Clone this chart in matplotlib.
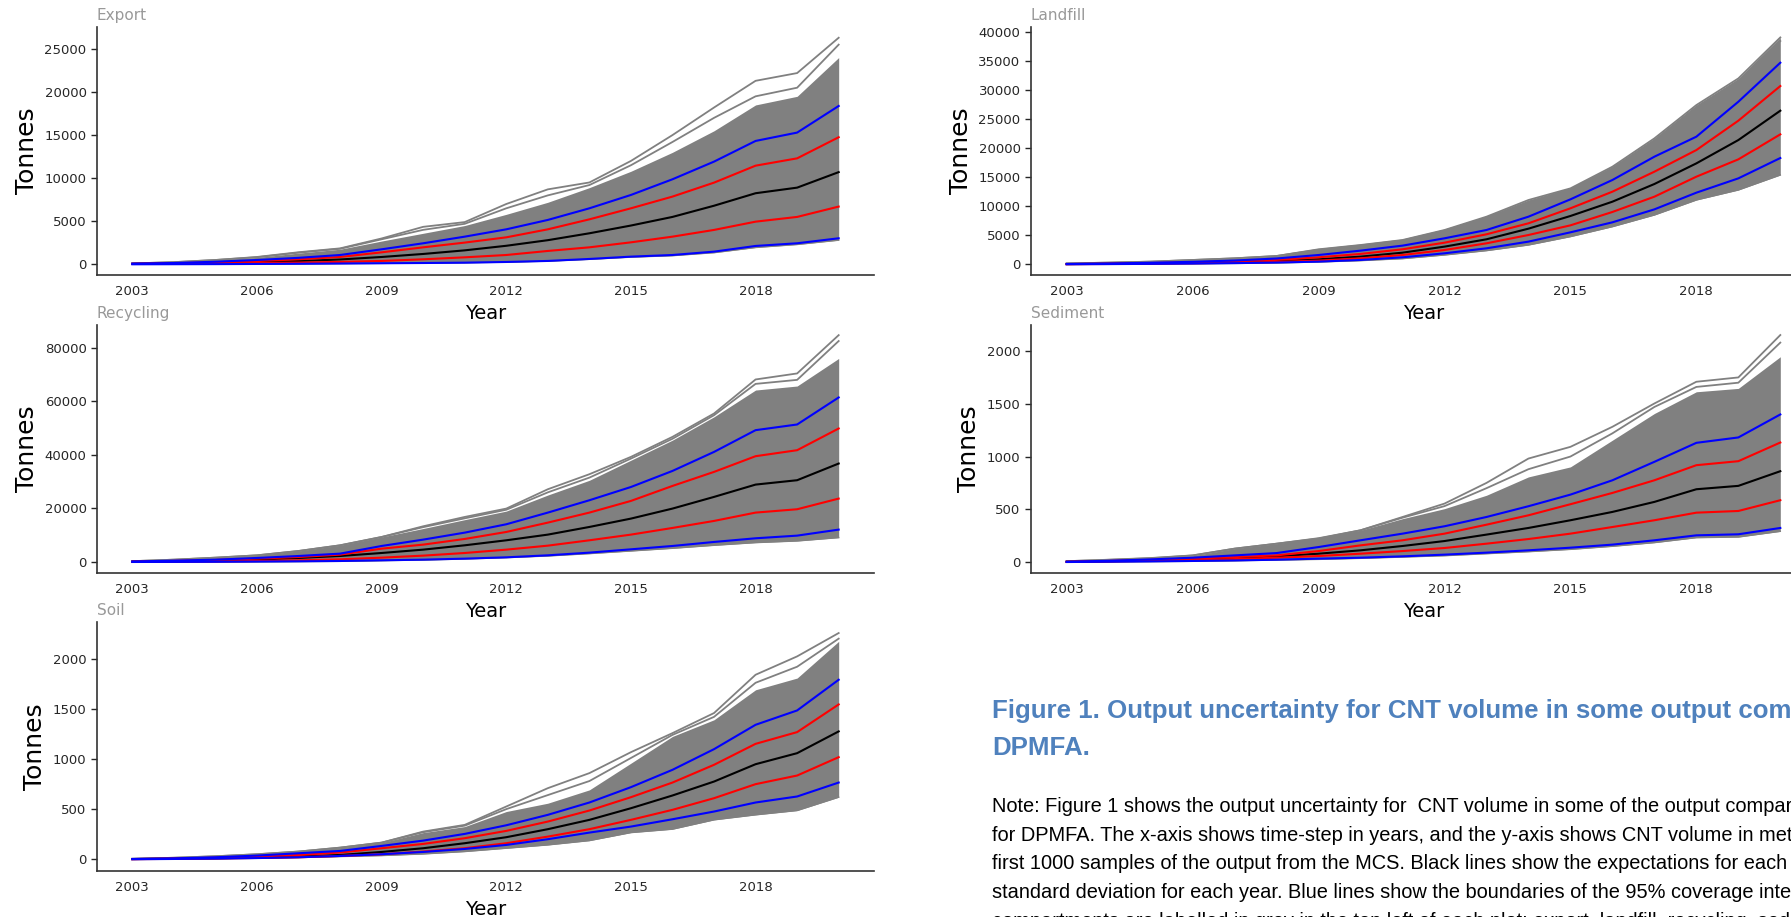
import numpy as np
import matplotlib
matplotlib.use("Agg")
import matplotlib.pyplot as plt
from matplotlib.ticker import MultipleLocator

years = np.arange(2003, 2021)

# Export
export_mean = [50, 100, 170, 260, 380, 560, 850, 1200, 1620, 2150, 2800, 3600, 4500, 5500, 6800, 8250, 8900, 10700]
export_sd_hi = [60, 120, 230, 380, 580, 850, 1390, 1970, 2520, 3130, 4060, 5220, 6500, 7860, 9480, 11450, 12300, 14750]
export_sd_lo = [40, 70, 110, 150, 200, 280, 390, 580, 810, 1080, 1550, 1970, 2550, 3210, 3990, 4950, 5500, 6700]
export_ci_hi = [80, 150, 300, 500, 750, 1080, 1740, 2440, 3210, 4060, 5150, 6500, 8050, 9870, 11920, 14320, 15290, 18380]
export_ci_lo = [0, 10, 20, 40, 60, 90, 120, 150, 190, 270, 390, 620, 890, 1080, 1470, 2130, 2440, 3020]
export_top = [100, 250, 500, 800, 1300, 1750, 2700, 3600, 4500, 5800, 7200, 8900, 10800, 13000, 15500, 18500, 19500, 24000]
export_bottom = [0, 8, 18, 35, 55, 80, 110, 140, 180, 250, 370, 580, 830, 1000, 1350, 1950, 2300, 2800]
export_high = [100, 250, 500, 850, 1400, 1850, 3000, 4350, 4900, 7000, 8700, 9500, 12000, 15000, 18200, 21300, 22200, 26300]
export_high2 = [100, 250, 500, 820, 1350, 1800, 2900, 4000, 4700, 6500, 8000, 9200, 11500, 14200, 17000, 19500, 20500, 25500]

# Landfill
landfill_mean = [30, 80, 160, 260, 390, 560, 860, 1320, 2000, 3040, 4300, 6130, 8310, 10770, 13810, 17360, 21370, 26420]
landfill_sd_hi = [45, 110, 210, 340, 510, 760, 1200, 1780, 2580, 3720, 5160, 7050, 9630, 12490, 15930, 19650, 24700, 30660]
landfill_sd_lo = [20, 55, 110, 180, 270, 410, 630, 1030, 1600, 2460, 3610, 5040, 6700, 9000, 11630, 15070, 18050, 22350]
landfill_ci_hi = [60, 140, 270, 430, 650, 1000, 1600, 2350, 3210, 4470, 5900, 8190, 11170, 14500, 18510, 21950, 27960, 34670]
landfill_ci_lo = [10, 35, 75, 130, 200, 300, 460, 745, 1200, 1890, 2750, 3900, 5500, 7220, 9450, 12320, 14780, 18280]
landfill_top = [150, 290, 460, 745, 1030, 1430, 2580, 3320, 4180, 5900, 8190, 11060, 13060, 16790, 21660, 27390, 31970, 39020]
landfill_bottom = [0, 20, 50, 90, 150, 230, 400, 630, 970, 1600, 2350, 3320, 4760, 6470, 8480, 11060, 12780, 15360]
landfill_high = [150, 290, 460, 745, 1030, 1430, 2580, 3320, 4180, 5900, 8190, 11060, 13060, 16790, 21660, 27390, 31970, 39020]
landfill_high2 = [150, 290, 460, 745, 1030, 1430, 2500, 3250, 4100, 5800, 8000, 10700, 12900, 16500, 21300, 27000, 31500, 38400]

# Recycling
recycling_mean = [100, 300, 500, 870, 1500, 2240, 3360, 4610, 6230, 8100, 10220, 13080, 16200, 19940, 24300, 28900, 30530, 36760]
recycling_sd_hi = [150, 400, 750, 1250, 1870, 2740, 4980, 6480, 8600, 11210, 14700, 18440, 22800, 28400, 33640, 39500, 41740, 49840]
recycling_sd_lo = [50, 100, 200, 370, 620, 1000, 1620, 2370, 3360, 4610, 6100, 8100, 10220, 12710, 15330, 18440, 19690, 23670]
recycling_ci_hi = [200, 500, 870, 1500, 2240, 3120, 5980, 8350, 10960, 14080, 18440, 23050, 28000, 34000, 41100, 49220, 51340, 61430]
recycling_ci_lo = [0, 30, 80, 150, 250, 370, 620, 870, 1250, 1740, 2490, 3490, 4730, 5980, 7480, 8850, 9840, 12090]
recycling_top = [300, 870, 1620, 2490, 4110, 6230, 9340, 12500, 15800, 19000, 25000, 30500, 38000, 45500, 54200, 64200, 65700, 76000]
recycling_bottom = [0, 10, 40, 80, 150, 250, 500, 750, 1120, 1620, 2240, 3120, 4110, 5110, 6230, 7230, 7850, 9100]
recycling_high = [300, 870, 1620, 2490, 4110, 6230, 9340, 13330, 16820, 19940, 27160, 32770, 39250, 46720, 55440, 68150, 70400, 84700]
recycling_high2 = [300, 870, 1620, 2490, 4110, 6230, 9340, 13000, 16300, 19500, 26000, 31500, 38600, 46000, 54800, 66500, 68000, 82500]

# Sediment
sediment_mean = [2, 8, 15, 25, 38, 54, 79, 111, 152, 199, 260, 323, 396, 475, 570, 690, 722, 861]
sediment_sd_hi = [2, 10, 20, 32, 47, 63, 104, 158, 206, 269, 354, 443, 548, 655, 775, 918, 956, 1133]
sediment_sd_lo = [1, 6, 12, 19, 28, 41, 57, 79, 104, 133, 174, 218, 269, 332, 396, 468, 484, 586]
sediment_ci_hi = [3, 12, 25, 41, 63, 85, 142, 206, 269, 339, 427, 529, 639, 775, 950, 1130, 1181, 1399]
sediment_ci_lo = [0, 3, 6, 10, 15, 22, 32, 41, 54, 70, 89, 111, 136, 165, 206, 253, 263, 323]
sediment_top = [6, 20, 35, 60, 127, 174, 231, 301, 411, 506, 633, 807, 902, 1155, 1408, 1614, 1646, 1946]
sediment_bottom = [0, 1, 4, 7, 12, 19, 25, 35, 47, 60, 79, 98, 120, 149, 184, 231, 237, 291]
sediment_high = [8, 22, 38, 63, 127, 174, 222, 301, 427, 554, 750, 981, 1092, 1282, 1503, 1709, 1750, 2152]
sediment_high2 = [8, 21, 36, 62, 127, 174, 226, 301, 420, 530, 700, 880, 1000, 1220, 1470, 1660, 1700, 2080]

# Soil
soil_mean = [2, 5, 10, 17, 27, 43, 73, 110, 160, 220, 300, 393, 509, 636, 775, 948, 1058, 1275]
soil_sd_hi = [2, 7, 15, 27, 43, 67, 110, 153, 210, 283, 376, 486, 619, 765, 942, 1151, 1268, 1544]
soil_sd_lo = [1, 4, 8, 13, 20, 33, 50, 77, 110, 160, 226, 300, 393, 493, 609, 749, 835, 1018]
soil_ci_hi = [3, 9, 20, 37, 60, 83, 133, 186, 253, 339, 443, 566, 719, 892, 1098, 1341, 1484, 1790]
soil_ci_lo = [0, 3, 7, 12, 20, 33, 50, 73, 103, 143, 200, 266, 326, 399, 476, 566, 626, 765]
soil_top = [5, 15, 30, 50, 77, 116, 166, 266, 326, 476, 559, 692, 958, 1225, 1391, 1690, 1807, 2173]
soil_bottom = [0, 2, 5, 10, 17, 27, 37, 53, 77, 110, 143, 186, 266, 300, 393, 443, 486, 619]
soil_high = [5, 15, 30, 50, 77, 116, 166, 276, 343, 526, 709, 859, 1068, 1258, 1458, 1840, 2023, 2256]
soil_high2 = [5, 15, 30, 50, 77, 116, 166, 270, 335, 500, 640, 780, 1010, 1240, 1420, 1760, 1920, 2200]

W, H = 1791, 917
fig = plt.figure(figsize=(W / 100, H / 100), dpi=100)


def add_panel(box, name, mean, sd_hi, sd_lo, ci_hi, ci_lo, top, bottom, highs, ylim, ystep):
    x0, y0, x1, y1 = box
    ax = fig.add_axes([x0 / W, 1 - y1 / H, (x1 - x0) / W, (y1 - y0) / H])
    # spread of the sampled runs
    ax.fill_between(years, bottom, top, color='grey', lw=0)
    for h in highs:
        ax.plot(years, h, color='grey', lw=1.3)
    ax.plot(years, bottom, color='grey', lw=1.0)
    ax.plot(years, mean, color='black', lw=1.5)
    ax.plot(years, sd_hi, color='red', lw=1.5)
    ax.plot(years, sd_lo, color='red', lw=1.5)
    ax.plot(years, ci_hi, color='blue', lw=1.5)
    ax.plot(years, ci_lo, color='blue', lw=1.5)
    ax.set_xlim(2002.15, 2020.85)
    ax.set_ylim(*ylim)
    ax.set_xticks(range(2003, 2019, 3))
    ax.yaxis.set_major_locator(MultipleLocator(ystep))
    for s in ('top', 'right'):
        ax.spines[s].set_visible(False)
    for s in ('left', 'bottom'):
        ax.spines[s].set_color('#333333')
        ax.spines[s].set_linewidth(1.2)
    ax.tick_params(labelsize=9.5, colors='#262626')
    ax.tick_params(axis='y', length=4, width=1)
    ax.tick_params(axis='x', length=0, pad=7.5)
    ax.set_xlabel('Year', fontsize=14, labelpad=4)
    ax.set_ylabel('Tonnes', fontsize=18, labelpad=4)
    ax.set_title(name, loc='left', fontsize=11, color='#999999', pad=5)
    return ax


add_panel((97, 27, 874, 275), 'Export', export_mean, export_sd_hi, export_sd_lo,
          export_ci_hi, export_ci_lo, export_top, export_bottom, [export_high, export_high2],
          (-1242, 27547), 5000)
add_panel((1031, 27, 1816, 275), 'Landfill', landfill_mean, landfill_sd_hi, landfill_sd_lo,
          landfill_ci_hi, landfill_ci_lo, landfill_top, landfill_bottom, [landfill_high, landfill_high2],
          (-1840, 40815), 5000)
add_panel((97, 325, 874, 573), 'Recycling', recycling_mean, recycling_sd_hi, recycling_sd_lo,
          recycling_ci_hi, recycling_ci_lo, recycling_top, recycling_bottom, [recycling_high, recycling_high2],
          (-4112, 88486), 20000)
add_panel((1031, 325, 1816, 573), 'Sediment', sediment_mean, sediment_sd_hi, sediment_sd_lo,
          sediment_ci_hi, sediment_ci_lo, sediment_top, sediment_bottom, [sediment_high, sediment_high2],
          (-104, 2247), 500)
add_panel((97, 622, 874, 871), 'Soil', soil_mean, soil_sd_hi, soil_sd_lo,
          soil_ci_hi, soil_ci_lo, soil_top, soil_bottom, [soil_high, soil_high2],
          (-117, 2366), 500)

# caption block
caption_title = ['Figure 1. Output uncertainty for CNT volume in some output compartments for',
                 'DPMFA.']
caption_note = [
    'Note: Figure 1 shows the output uncertainty for  CNT volume in some of the output compartments',
    'for DPMFA. The x-axis shows time-step in years, and the y-axis shows CNT volume in metric',
    'first 1000 samples of the output from the MCS. Black lines show the expectations for each year',
    'standard deviation for each year. Blue lines show the boundaries of the 95% coverage interval',
    'compartments are labelled in grey in the top left of each plot: export, landfill, recycling, sediment',
]
for i, line in enumerate(caption_title):
    fig.text(992 / W, 1 - (718 + 37 * i) / H, line, family='Liberation Sans', weight='bold',
             fontsize=18.6, color='#4F81BD', va='baseline', ha='left')
for i, line in enumerate(caption_note):
    fig.text(992 / W, 1 - (812 + 28.7 * i) / H, line, family='Liberation Sans',
             fontsize=14.4, color='black', va='baseline', ha='left')

fig.savefig('out.png', dpi=100)
